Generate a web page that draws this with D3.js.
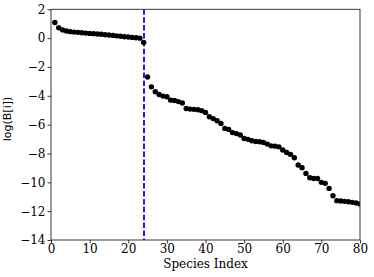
<!DOCTYPE html>
<html>
<head>
<meta charset="utf-8">
<script src="https://cdn.jsdelivr.net/npm/d3@7"></script>
<style>
  html, body { margin: 0; padding: 0; background: #fff; }
  svg { display: block; }
  .tick text { font-family: "DejaVu Serif", serif; font-size: 12px; fill: #000; }
</style>
</head>
<body>
<svg id="chart" width="374" height="277"></svg>
<script>
// log abundance per species, sorted, species index 1..80
const logB = [
  1.08, 0.72, 0.57, 0.49, 0.45, 0.42, 0.40, 0.37, 0.35, 0.33,
  0.31, 0.29, 0.27, 0.24, 0.22, 0.19, 0.16, 0.13, 0.10, 0.08,
  0.05, 0.03, 0.00, -0.30,
  -2.70, -3.38, -3.72, -3.91, -4.02, -4.07, -4.30, -4.33, -4.40, -4.50,
  -4.88, -4.92, -4.94, -4.97, -5.03, -5.15, -5.45, -5.58, -5.73, -5.92,
  -6.26, -6.33, -6.55, -6.62, -6.72, -6.96, -7.02, -7.12, -7.17, -7.19,
  -7.23, -7.35, -7.47, -7.49, -7.54, -7.76, -7.93, -8.06, -8.30, -8.80,
  -8.99, -9.38, -9.68, -9.73, -9.73, -10.00, -10.07, -10.42, -10.93, -11.27,
  -11.30, -11.32, -11.35, -11.39, -11.43, -11.50
];
const speciesIdx = logB.map((d, i) => i + 1);
const cutoff = [24];
const xTicks = [0, 10, 20, 30, 40, 50, 60, 70, 80];
const yTicks = [-14, -12, -10, -8, -6, -4, -2, 0, 2];

const mLeft = 51, mRight = 360, mTop = 9.3, mBottom = 240;
const svg = d3.select("#chart");

const x = d3.scaleLinear().domain([0, 80]).range([mLeft, mRight]);
const y = d3.scaleLinear().domain([-14, 2]).range([mBottom, mTop]);

const fmt = d => (d < 0 ? "\u2212" + Math.abs(d) : "" + d);

svg.append("defs").append("clipPath").attr("id", "clip")
  .append("rect")
  .attr("x", mLeft).attr("y", mTop)
  .attr("width", mRight - mLeft).attr("height", mBottom - mTop);

const plot = svg.append("g").attr("clip-path", "url(#clip)");

// threshold line, snapped to the pixel grid so the blue stays crisp
plot.selectAll("line.cut").data(cutoff).enter().append("line")
  .attr("class", "cut")
  .attr("x1", d => Math.round(x(d))).attr("x2", d => Math.round(x(d)))
  .attr("y1", mTop).attr("y2", mBottom)
  .attr("stroke", "#0000ff")
  .attr("stroke-width", 1.8)
  .attr("stroke-dasharray", "5.5,2.4");

plot.selectAll("circle").data(logB).enter().append("circle")
  .attr("cx", (d, i) => x(speciesIdx[i]))
  .attr("cy", d => y(d))
  .attr("r", 2.7)
  .attr("fill", "#000");

// frame
svg.append("rect")
  .attr("x", mLeft).attr("y", mTop)
  .attr("width", mRight - mLeft).attr("height", mBottom - mTop)
  .attr("fill", "none").attr("stroke", "#222").attr("stroke-width", 0.9);

const xaxis = svg.append("g")
  .attr("transform", "translate(0," + mBottom + ")")
  .call(d3.axisBottom(x).tickValues(xTicks).tickFormat(fmt).tickSizeOuter(0).tickSize(3.5).tickPadding(1));
const yaxis = svg.append("g")
  .attr("transform", "translate(" + mLeft + ",0)")
  .call(d3.axisLeft(y).tickValues(yTicks).tickFormat(fmt).tickSizeOuter(0).tickSize(3.5).tickPadding(2));

[xaxis, yaxis].forEach(a => {
  a.select(".domain").remove();
  a.selectAll(".tick line").attr("stroke", "#222").attr("stroke-width", 0.9);
});

svg.append("text")
  .attr("x", (mLeft + mRight) / 2).attr("y", 268)
  .attr("text-anchor", "middle")
  .style("font-family", "'DejaVu Serif', serif").style("font-size", "12px")
  .text("Species Index");

svg.append("text")
  .attr("transform", "translate(11," + 119 + ") rotate(-90)")
  .attr("text-anchor", "middle")
  .style("font-family", "'DejaVu Sans', sans-serif").style("font-size", "11px")
  .text("log(B[i])");
</script>
</body>
</html>
